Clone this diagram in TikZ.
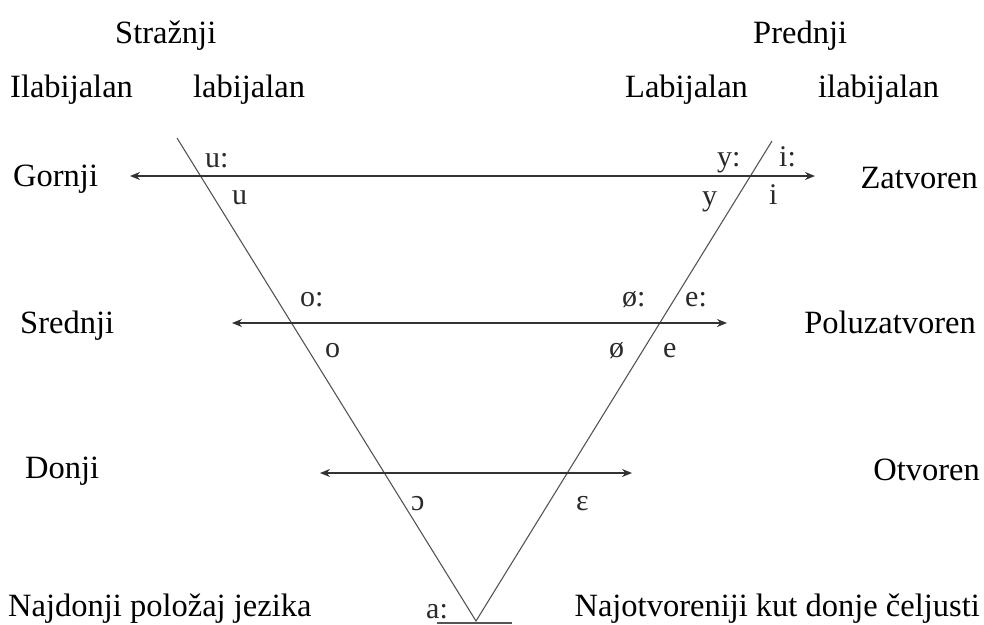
\documentclass[tikz,border=0pt]{standalone}
\usepackage{fontspec}
\setmainfont{Liberation Serif}
\usetikzlibrary{arrows.meta}
\definecolor{linegray}{HTML}{555555}
\definecolor{arrowgray}{HTML}{333333}
\definecolor{vowgray}{HTML}{2A2A2A}
\tikzset{
  lbl/.style={font=\fontsize{32.5}{38}\selectfont, inner sep=0pt, anchor=base west},
  lble/.style={font=\fontsize{32.5}{38}\selectfont, inner sep=0pt, anchor=base east},
  vow/.style={font=\fontsize{30}{34}\selectfont, inner sep=0pt, anchor=base west, text=vowgray},
  tri/.style={draw=linegray, line width=1.1pt},
  axis/.style={draw=arrowgray, line width=1.8pt, {Stealth[length=10pt,width=8pt]}-{Stealth[length=10pt,width=8pt]}}
}
\begin{document}
\begin{tikzpicture}[x=1pt,y=-1pt]
\useasboundingbox (0,0) rectangle (984,624);
% headings
\node[lbl] (straz) at (115,43) {Stražnji};
\node[lbl] (pred) at (753,43) {Prednji};
\node[lbl] (ilab1) at (10,97) {Ilabijalan};
\node[lbl] (lab1) at (193,97) {labijalan};
\node[lbl] (lab2) at (625,97) {Labijalan};
\node[lbl] (ilab2) at (818,97) {ilabijalan};
% row labels
\node[lbl] (gor) at (13,186) {Gornji};
\node[lble] (zat) at (978,188) {Zatvoren};
\node[lbl] (sred) at (20,333) {Srednji};
\node[lble] (pol) at (976,333) {Poluzatvoren};
\node[lbl] (don) at (25,478) {Donji};
\node[lble] (otv) at (980,480) {Otvoren};
\node[lbl] (najd) at (8,616) {Najdonji položaj jezika};
\node[lble] (najo) at (980,616) {Najotvoreniji kut donje čeljusti};
% triangle
\coordinate (lt) at (177,138);
\coordinate (rt) at (772,141);
\coordinate (v) at (476,621);
\coordinate (b1) at (437,623);
\coordinate (b2) at (512,623);
\draw[tri] (lt) -- (v) -- (rt);
\draw[tri] (b1) -- (b2);
% arrows
\coordinate (a1l) at (130,176); \coordinate (a1r) at (815,176);
\coordinate (a2l) at (232,323); \coordinate (a2r) at (727,323);
\coordinate (a3l) at (320,473); \coordinate (a3r) at (632,473);
\draw[axis] (a1l) -- (a1r);
\draw[axis] (a2l) -- (a2r);
\draw[axis] (a3l) -- (a3r);
% vowels
\node[vow] (uu) at (205,167) {u:};
\node[vow] (u) at (232,204) {u};
\node[vow] (yy) at (717,166) {y:};
\node[vow] (ii) at (779,166) {i:};
\node[vow] (y) at (702,205) {y};
\node[vow] (i) at (769,204) {i};
\node[vow] (oo) at (300,306) {o:};
\node[vow] (o) at (325,357) {o};
\node[vow] (oeoe) at (622,306) {ø:};
\node[vow] (ee) at (685,306) {e:};
\node[vow] (oe) at (609,357) {ø};
\node[vow] (e) at (663,357) {e};
\node[vow] (oc) at (411,510) {ɔ};
\node[vow] (eps) at (576,510) {ɛ};
\node[vow] (aa) at (426,618) {a:};
\end{tikzpicture}
\end{document}
